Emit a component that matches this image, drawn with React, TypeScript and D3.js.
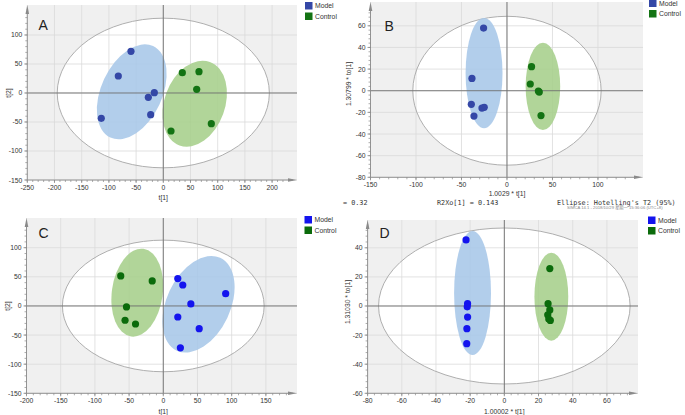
import React from "react";
import * as d3 from "d3";

type P = [number, number];
type E = [number, number, number, number, number];

const panelLabels = ["A", "B", "C", "D"];
const legendLabels = ["Model", "Control"];

const aModel: P[] = [[-59.4, 71.9], [-82.7, 29.3], [-16.5, 0.5], [-27.5, -7.5], [-23.2, -37.4], [-114, -43.7]];
const aControl: P[] = [[35, 35], [65.6, 36.8], [61.4, 6.3], [88.3, -52.9], [14.2, -65.5]];
const bModel: P[] = [[-25.7, 57.9], [-38.5, 11.4], [-39.2, -12.6], [-27.5, -16], [-25, -15.3], [-36.3, -23.4]];
const bControl: P[] = [[27, 22.2], [25.6, 6.2], [35.5, -1.2], [34.5, -0.3], [37.4, -23]];
const cModel: P[] = [[21.2, 47], [28.5, 36], [91.2, 21], [40.3, 3.4], [21.2, -19], [52.5, -39], [25, -72]];
const cControl: P[] = [[-62.2, 51.5], [-16.2, 43], [-53.8, -1.7], [-55.9, -24.6], [-40.6, -31]];
const dModel: P[] = [[-22.4, 45.4], [-21.5, 1.6], [-21.7, -0.6], [-21.5, -7.6], [-21.9, -15.6], [-22, -25.9]];
const dControl: P[] = [[26.6, 25.7], [25.6, 1.6], [26.6, -2.7], [25.4, -6], [26.9, -9.9], [26, -9]];

// Hotelling ellipses and group ellipses: cx, cy, rx, ry (data units), angle (deg)
const aEllipses: E[] = [[0, 0, 195, 129, 0], [-58, 2, 56, 87, 25], [57.7, -18.4, 55.7, 76.6, 20]];
const bEllipses: E[] = [[0, 0, 103.5, 68.8, 0], [-25.2, 16.3, 20.3, 51, 0], [39.5, 4, 19, 40.3, 0]];
const cEllipses: E[] = [[0, 0, 147.5, 113, 0], [51.5, 2.9, 46.6, 88, 25], [-38, 22.8, 37.2, 76, 8]];
const dEllipses: E[] = [[0, 0, 73.6, 53.6, 0], [-18.6, 8.9, 10.8, 42.6, 0], [27.5, 6.4, 9.9, 30.2, 0]];

const aXTicks = [-250, -200, -150, -100, -50, 0, 50, 100, 150, 200];
const aYTicks = [-150, -100, -50, 0, 50, 100];
const bXTicks = [-150, -100, -50, 0, 50, 100];
const bYTicks = [-80, -60, -40, -20, 0, 20, 40, 60];
const cXTicks = [-200, -150, -100, -50, 0, 50, 100, 150];
const cYTicks = [-150, -100, -50, 0, 50, 100];
const dXTicks = [-80, -60, -40, -20, 0, 20, 40, 60];
const dYTicks = [-60, -40, -20, 0, 20, 40];

const xTitles = ["t[1]", "1.0029 * t[1]", "t[1]", "1.00002 * t[1]"];
const yTitles = ["t[2]", "1.30799 * to[1]", "t[2]", "1.31030 * to[1]"];

const footerTexts = ["=  0.32", "R2Xo[1] = 0.143", "Ellipse: Hotelling's T2 (95%)"];
const simcaText = "SIMCA 14.1 - 2018/10/29 星期一 15:36:06 (UTC+8)";

interface PanelCfg {
  label: string;
  model: P[];
  control: P[];
  ellipses: E[];
  xTicks: number[];
  yTicks: number[];
  xDom: [number, number];
  xRange: [number, number];
  yDom: [number, number];
  yRange: [number, number];
  xTitle: string;
  yTitle: string;
  modelColor: string;
  controlColor: string;
  legendX: number;
  legendY: number;
  labelPos: [number, number];
  xTitlePos: [number, number];
  yTitlePos: [number, number];
  tickLabelDy: number;
}

const FONT = "'Liberation Sans', Arial, sans-serif";

function Panel({ c }: { c: PanelCfg }) {
  const x = d3.scaleLinear().domain(c.xDom).range(c.xRange);
  const y = d3.scaleLinear().domain(c.yDom).range(c.yRange);
  const left = c.xRange[0], right = c.xRange[1];
  const bottom = c.yRange[0], top = c.yRange[1];
  const kx = Math.abs(x(1) - x(0));
  const ky = Math.abs(y(1) - y(0));
  const xStep = c.xTicks[1] - c.xTicks[0];
  const yStep = c.yTicks[1] - c.yTicks[0];
  const xMinor: number[] = [];
  for (let v = c.xTicks[0]; v <= c.xDom[1]; v += xStep / 5) xMinor.push(v);
  const yMinor: number[] = [];
  for (let v = c.yTicks[0]; v <= c.yDom[1]; v += yStep / 5) yMinor.push(v);
  const ell = (e: E, i: number, props: any) => {
    const cx = x(e[0]), cy = y(e[1]);
    return (
      <ellipse key={i} cx={cx} cy={cy} rx={e[2] * kx} ry={e[3] * ky}
        transform={`rotate(${e[4]} ${cx} ${cy})`} {...props} />
    );
  };
  const [hot, mEll, cEll] = c.ellipses;
  return (
    <g>
      <rect x={left} y={top} width={right - left} height={bottom - top} fill="#f0f0f0" />
      {ell(hot, 0, { fill: "#ffffff", stroke: "none" })}
      {c.xTicks.map((t) => (
        <line key={"gx" + t} x1={x(t)} x2={x(t)} y1={top} y2={bottom} stroke="#dadada" strokeWidth={0.8} />
      ))}
      {c.yTicks.map((t) => (
        <line key={"gy" + t} x1={left} x2={right} y1={y(t)} y2={y(t)} stroke="#dadada" strokeWidth={0.8} />
      ))}
      {ell(hot, 1, { fill: "none", stroke: "#a6a6a6", strokeWidth: 0.9 })}
      {ell(mEll, 2, { fill: "#a7c7e8", fillOpacity: 0.88 })}
      {ell(cEll, 3, { fill: "#a6cf8b", fillOpacity: 0.88 })}
      <line x1={left} x2={right} y1={y(0)} y2={y(0)} stroke="#6e6e6e" strokeWidth={0.9} />
      <line x1={x(0)} x2={x(0)} y1={top} y2={bottom} stroke="#6e6e6e" strokeWidth={0.9} />
      {c.model.map((p, i) => (
        <circle key={"m" + i} cx={x(p[0])} cy={y(p[1])} r={3.6} fill={c.modelColor} />
      ))}
      {c.control.map((p, i) => (
        <circle key={"c" + i} cx={x(p[0])} cy={y(p[1])} r={3.6} fill={c.controlColor} />
      ))}
      {/* axes */}
      <line x1={left} x2={right - 4} y1={bottom} y2={bottom} stroke="#8a8a8a" strokeWidth={0.9} />
      <path d={`M${right},${bottom} L${right - 9},${bottom - 1.8} L${right - 9},${bottom + 1.8} Z`} fill="#8a8a8a" />
      <line x1={left} x2={left} y1={bottom} y2={top + 4} stroke="#8a8a8a" strokeWidth={0.9} />
      <path d={`M${left},${top} L${left - 1.8},${top + 9} L${left + 1.8},${top + 9} Z`} fill="#8a8a8a" />
      {xMinor.filter((v) => x(v) < right - 9).map((v, i) => (
        <line key={"xm" + i} x1={x(v)} x2={x(v)} y1={bottom} y2={bottom + 2} stroke="#8a8a8a" strokeWidth={0.7} />
      ))}
      {yMinor.filter((v) => y(v) > top + 9).map((v, i) => (
        <line key={"ym" + i} x1={left - 2} x2={left} y1={y(v)} y2={y(v)} stroke="#8a8a8a" strokeWidth={0.7} />
      ))}
      {c.xTicks.map((t) => (
        <g key={"xt" + t}>
          <line x1={x(t)} x2={x(t)} y1={bottom} y2={bottom + 3} stroke="#8a8a8a" strokeWidth={0.8} />
          <text x={x(t)} y={bottom + c.tickLabelDy} textAnchor="middle" dominantBaseline="central"
            fontSize={6.8} fill="#333" fontFamily={FONT}>{t}</text>
        </g>
      ))}
      {c.yTicks.map((t) => (
        <g key={"yt" + t}>
          <line x1={left - 3} x2={left} y1={y(t)} y2={y(t)} stroke="#8a8a8a" strokeWidth={0.8} />
          <text x={left - 5} y={y(t)} textAnchor="end" dominantBaseline="central"
            fontSize={6.8} fill="#333" fontFamily={FONT}>{t}</text>
        </g>
      ))}
      <text x={c.xTitlePos[0]} y={c.xTitlePos[1]} textAnchor="middle" dominantBaseline="central"
        fontSize={6.8} fill="#333" fontFamily={FONT}>{c.xTitle}</text>
      <text transform={`translate(${c.yTitlePos[0]},${c.yTitlePos[1]}) rotate(-90)`} textAnchor="middle"
        dominantBaseline="central" fontSize={6.8} fill="#333" fontFamily={FONT}>{c.yTitle}</text>
      <text x={c.labelPos[0]} y={c.labelPos[1]} fontSize={14} fill="#222" fontFamily={FONT}>{c.label}</text>
      {/* legend */}
      {[c.modelColor, c.controlColor].map((col, i) => (
        <g key={"lg" + i}>
          <rect x={c.legendX} y={c.legendY + i * 10.5} width={7.5} height={7.5} fill={col} />
          <text x={c.legendX + 10} y={c.legendY + i * 10.5 + 3.8} dominantBaseline="central"
            fontSize={6.8} fill="#333" fontFamily={FONT}>{legendLabels[i]}</text>
        </g>
      ))}
    </g>
  );
}

const panels: PanelCfg[] = [
  {
    label: panelLabels[0], model: aModel, control: aControl, ellipses: aEllipses,
    xTicks: aXTicks, yTicks: aYTicks,
    xDom: [-250, 245.8], xRange: [27.3, 297], yDom: [-150, 151.7], yRange: [180, 5],
    xTitle: xTitles[0], yTitle: yTitles[0], modelColor: "#3447a6", controlColor: "#137313",
    legendX: 305, legendY: 2, labelPos: [38.5, 29.5], xTitlePos: [163.3, 197.5], yTitlePos: [8, 93],
    tickLabelDy: 7.7,
  },
  {
    label: panelLabels[1], model: bModel, control: bControl, ellipses: bEllipses,
    xTicks: bXTicks, yTicks: bYTicks,
    xDom: [-150, 149.5], xRange: [370.5, 643], yDom: [-80, 82], yRange: [177.3, 2],
    xTitle: xTitles[1], yTitle: yTitles[1], modelColor: "#3447a6", controlColor: "#137313",
    legendX: 649, legendY: -0.5, labelPos: [384.5, 30.5], xTitlePos: [507, 193.5], yTitlePos: [348, 84],
    tickLabelDy: 6.8,
  },
  {
    label: panelLabels[2], model: cModel, control: cControl, ellipses: cEllipses,
    xTicks: cXTicks, yTicks: cYTicks,
    xDom: [-200, 195.5], xRange: [26.5, 297], yDom: [-150, 151], yRange: [393.3, 218],
    xTitle: xTitles[2], yTitle: yTitles[2], modelColor: "#1414ee", controlColor: "#0b6b0b",
    legendX: 304.5, legendY: 216, labelPos: [38.5, 237.5], xTitlePos: [163.3, 411], yTitlePos: [7, 306],
    tickLabelDy: 6.8,
  },
  {
    label: panelLabels[3], model: dModel, control: dControl, ellipses: dEllipses,
    xTicks: dXTicks, yTicks: dYTicks,
    xDom: [-80, 78.2], xRange: [367.6, 638], yDom: [-60, 59.1], yRange: [393.3, 220],
    xTitle: xTitles[3], yTitle: yTitles[3], modelColor: "#1414ee", controlColor: "#0b6b0b",
    legendX: 648, legendY: 216.5, labelPos: [379.5, 237.5], xTitlePos: [504.3, 411], yTitlePos: [347, 302],
    tickLabelDy: 7.5,
  },
];

export default function App() {
  return (
    <svg width={685} height={415} style={{ position: "absolute", left: 0, top: 0, display: "block", background: "#fff" }}>
      <rect x={0} y={0} width={685} height={415} fill="#fff" />
      {panels.map((p) => (
        <Panel key={p.label} c={p} />
      ))}
      <text x={343} y={202.5} dominantBaseline="central" fontSize={6.8} fill="#333"
        fontFamily="'DejaVu Sans Mono', 'Liberation Mono', monospace">{footerTexts[0]}</text>
      <text x={437} y={202.5} dominantBaseline="central" fontSize={6.8} fill="#333"
        fontFamily="'DejaVu Sans Mono', 'Liberation Mono', monospace">{footerTexts[1]}</text>
      <text x={557} y={202.5} dominantBaseline="central" fontSize={6.8} fill="#333"
        fontFamily="'DejaVu Sans Mono', 'Liberation Mono', monospace">{footerTexts[2]}</text>
      <text x={567} y={207.5} dominantBaseline="central" fontSize={4.2} fill="#888"
        fontFamily={"'Liberation Sans', 'Noto Sans CJK SC', sans-serif"}>{simcaText}</text>
    </svg>
  );
}
